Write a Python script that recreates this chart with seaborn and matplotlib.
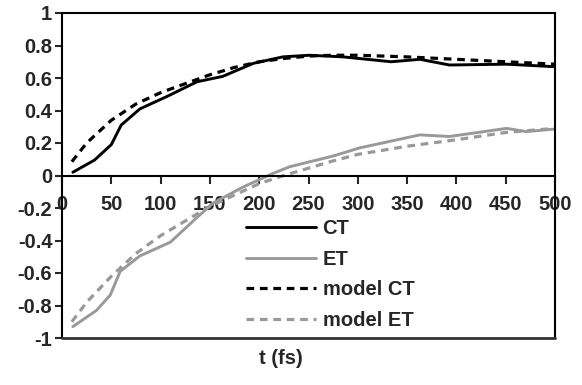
import matplotlib
matplotlib.use("Agg")
import matplotlib.pyplot as plt
import seaborn as sns
import pandas as pd

sns.set_style("white")
plt.rcParams["font.family"] = ["Liberation Sans", "DejaVu Sans"]
plt.rcParams["font.weight"] = "bold"

# Measured transfer fractions versus time (fs)
ct_t = [11, 33, 50, 60, 79, 106, 137, 163, 194, 224, 251, 285, 334, 363, 393, 451, 498]
ct_v = [0.02, 0.095, 0.19, 0.31, 0.41, 0.485, 0.577, 0.61, 0.69, 0.73, 0.74, 0.73, 0.70, 0.715, 0.68, 0.685, 0.67]

et_t = [11, 35, 49, 59, 79, 110, 133, 153, 184, 214, 231, 275, 302, 363, 393, 451, 471, 498]
et_v = [-0.93, -0.83, -0.735, -0.59, -0.495, -0.41, -0.28, -0.17, -0.07, 0.013, 0.054, 0.12, 0.17, 0.25, 0.24, 0.29, 0.27, 0.285]

# Model curves
model_t = [10, 25, 50, 75, 100, 125, 150, 175, 200, 225, 250, 275, 300, 350, 400, 450, 500]
model_ct = [0.085, 0.20, 0.34, 0.44, 0.51, 0.565, 0.62, 0.665, 0.70, 0.72, 0.735, 0.74, 0.74, 0.73, 0.715, 0.70, 0.685]
model_et = [-0.90, -0.78, -0.62, -0.48, -0.37, -0.28, -0.19, -0.12, -0.05, 0.0, 0.045, 0.09, 0.13, 0.18, 0.22, 0.265, 0.29]

x_ticks = [0, 50, 100, 150, 200, 250, 300, 350, 400, 450, 500]
y_ticks = [-1, -0.8, -0.6, -0.4, -0.2, 0, 0.2, 0.4, 0.6, 0.8, 1]
y_labels = ["-1", "-0.8", "-0.6", "-0.4", "-0.2", "0", "0.2", "0.4", "0.6", "0.8", "1"]

black = "#000000"
gray = "#999999"
dash = (2.4, 1.8)
fs = 14.5

fig = plt.figure(figsize=(5.82, 3.85), dpi=100)
ax = fig.add_axes([62 / 582, 1 - 338 / 385, (555 - 62) / 582, (338 - 13) / 385])

series = [
    ("CT", ct_t, ct_v, black, ""),
    ("ET", et_t, et_v, gray, ""),
    ("model CT", model_t, model_ct, black, dash),
    ("model ET", model_t, model_et, gray, dash),
]
for name, t, v, col, ls in series:
    df = pd.DataFrame({"t": t, "v": v})
    line_kw = dict(lw=2.1) if ls == "" else dict(lw=2.3, dashes=ls)
    sns.lineplot(data=df, x="t", y="v", ax=ax, color=col, label=name, **line_kw)

ax.set_xlim(0, 500)
ax.set_ylim(-1, 1)
ax.set_xticks(x_ticks)
ax.set_xticklabels([str(x) for x in x_ticks])
ax.set_yticks(y_ticks)
ax.set_yticklabels(y_labels)
ax.set_xlabel("")
ax.set_ylabel("")

# x axis crosses at zero; the outer box is completed separately
ax.spines["bottom"].set_position(("data", 0))
for s in ax.spines.values():
    s.set_color("black")
    s.set_linewidth(1.5)
ax.axhline(-1, color="#333333", lw=2.0, clip_on=False, zorder=5)

ax.tick_params(axis="x", direction="out", length=6, width=1.5, pad=8,
               labelsize=fs, bottom=True)
ax.tick_params(axis="y", direction="out", length=5, width=1.5, pad=2,
               labelsize=fs, left=True)
for lab in ax.get_xticklabels() + ax.get_yticklabels():
    lab.set_fontweight("bold")

leg = ax.legend(loc="upper left", bbox_to_anchor=(246 / 582, 1 - 219 / 385),
                bbox_transform=fig.transFigure, frameon=False, fontsize=fs,
                handlelength=3.5, handletextpad=0.3, labelspacing=0.58,
                borderpad=0, borderaxespad=0)
for txt in leg.get_texts():
    txt.set_fontweight("bold")

fig.text(281 / 582, 1 - 358 / 385, "t (fs)", ha="center", va="center",
         fontsize=fs, fontweight="bold")

fig.savefig("out.png", dpi=100)
